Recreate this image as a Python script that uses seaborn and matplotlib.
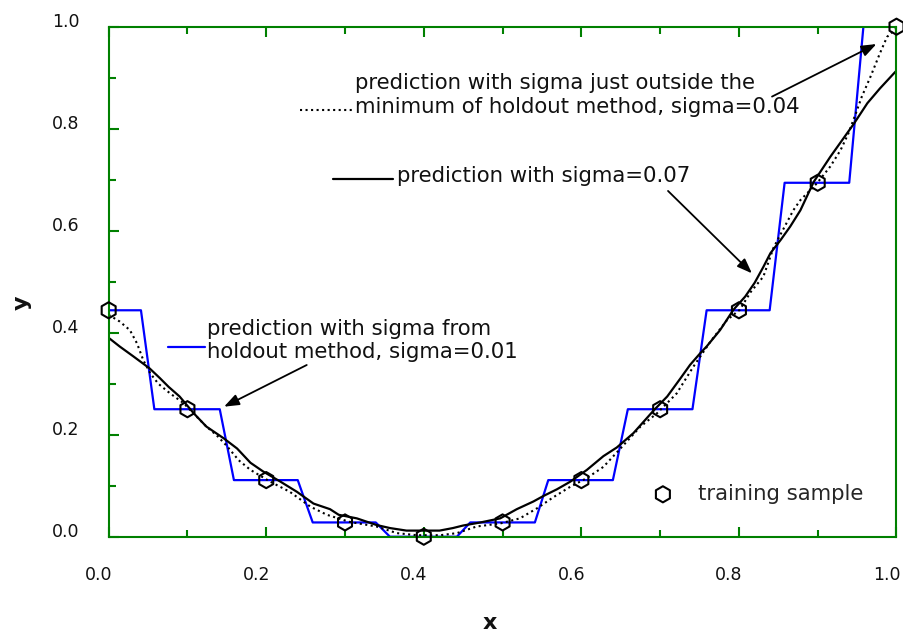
import matplotlib
matplotlib.use("Agg")
import matplotlib.pyplot as plt
import seaborn as sns
from matplotlib.transforms import ScaledTranslation

# ---------------- data ----------------
sample_x = [0.0, 0.1, 0.2, 0.3, 0.4, 0.5, 0.6, 0.7, 0.8, 0.9, 1.0]
sample_y = [0.444, 0.250, 0.111, 0.028, 0.000, 0.028, 0.111, 0.250, 0.444, 0.694, 1.000]

# prediction, sigma = 0.01 (blue, step-like)
s01_x = [0.000, 0.041, 0.058, 0.141, 0.159, 0.240, 0.259, 0.339, 0.357, 0.442, 0.459,
         0.541, 0.558, 0.640, 0.659, 0.741, 0.759, 0.839, 0.858, 0.940, 0.958, 1.000]
s01_y = [0.444, 0.444, 0.250, 0.250, 0.111, 0.111, 0.028, 0.028, 0.000, 0.000, 0.028,
         0.028, 0.111, 0.111, 0.250, 0.250, 0.444, 0.444, 0.694, 0.694, 1.000, 1.000]

# prediction, sigma = 0.04 (dotted)
s04_x = [0.000, 0.014, 0.027, 0.036, 0.044, 0.053, 0.063, 0.078, 0.095, 0.112, 0.124,
         0.137, 0.150, 0.165, 0.180, 0.205, 0.230, 0.256, 0.277, 0.306, 0.340, 0.366,
         0.391, 0.421, 0.442, 0.467, 0.497, 0.522, 0.544, 0.565, 0.586, 0.607, 0.628,
         0.649, 0.675, 0.696, 0.721, 0.742, 0.764, 0.785, 0.801, 0.815, 0.831, 0.844,
         0.857, 0.869, 0.878, 0.899, 0.916, 0.929, 0.939, 0.950, 0.956, 0.967, 0.979,
         0.988, 1.000]
s04_y = [0.435, 0.422, 0.405, 0.379, 0.346, 0.320, 0.300, 0.281, 0.262, 0.235, 0.216,
         0.199, 0.178, 0.150, 0.131, 0.108, 0.088, 0.059, 0.043, 0.029, 0.020, 0.007,
         0.003, 0.003, 0.007, 0.020, 0.026, 0.036, 0.056, 0.078, 0.098, 0.115, 0.137,
         0.172, 0.216, 0.242, 0.281, 0.333, 0.383, 0.425, 0.445, 0.480, 0.510, 0.567,
         0.605, 0.640, 0.660, 0.693, 0.726, 0.758, 0.791, 0.837, 0.863, 0.902, 0.948,
         0.980, 0.997]

# prediction, sigma = 0.07 (solid black)
s07_x = [0.000, 0.014, 0.031, 0.052, 0.065, 0.076, 0.090, 0.108, 0.124, 0.146, 0.163,
         0.180, 0.196, 0.218, 0.239, 0.260, 0.281, 0.292, 0.315, 0.340, 0.357, 0.378,
         0.408, 0.420, 0.437, 0.450, 0.472, 0.497, 0.518, 0.539, 0.552, 0.569, 0.586,
         0.607, 0.628, 0.645, 0.666, 0.692, 0.709, 0.726, 0.738, 0.751, 0.759, 0.776,
         0.793, 0.808, 0.820, 0.831, 0.840, 0.853, 0.865, 0.878, 0.895, 0.916, 0.946,
         0.963, 0.979, 1.000]
s07_y = [0.390, 0.373, 0.354, 0.330, 0.311, 0.294, 0.275, 0.242, 0.216, 0.193, 0.173,
         0.145, 0.128, 0.108, 0.088, 0.065, 0.054, 0.043, 0.036, 0.023, 0.017, 0.012,
         0.012, 0.012, 0.017, 0.022, 0.028, 0.036, 0.054, 0.069, 0.080, 0.093, 0.108,
         0.131, 0.158, 0.175, 0.203, 0.248, 0.275, 0.311, 0.337, 0.360, 0.373, 0.405,
         0.445, 0.471, 0.498, 0.529, 0.556, 0.582, 0.608, 0.640, 0.696, 0.745, 0.810,
         0.850, 0.879, 0.914]

major_ticks = [0.0, 0.2, 0.4, 0.6, 0.8, 1.0]
minor_ticks = [0.1, 0.3, 0.5, 0.7, 0.9]
tick_labels = ["0.0", "0.2", "0.4", "0.6", "0.8", "1.0"]

text_s04 = "prediction with sigma just outside the\nminimum of holdout method, sigma=0.04"
text_s07 = "prediction with sigma=0.07"
text_s01 = "prediction with sigma from\nholdout method, sigma=0.01"
legend_label = "training sample"

# ---------------- styling ----------------
sns.set_theme(style="white")
plt.rcParams["font.family"] = ["DejaVu Sans"]
GREEN = "#008000"
BLUE = "#0000ff"

fig = plt.figure(figsize=(9.04, 6.33), dpi=100)
ax = fig.add_axes([0.1202, 0.1521, 0.8715, 0.8057])

sns.lineplot(x=s01_x, y=s01_y, ax=ax, color=BLUE, lw=1.6, sort=False, estimator=None)
sns.lineplot(x=s04_x, y=s04_y, ax=ax, color="black", lw=1.5, linestyle=":",
             sort=False, estimator=None)
sns.lineplot(x=s07_x, y=s07_y, ax=ax, color="black", lw=1.6, sort=False, estimator=None)
sns.scatterplot(x=sample_x, y=sample_y, ax=ax, marker="h", s=135, facecolors="none",
                edgecolor="black", linewidth=1.5, clip_on=False, zorder=4,
                label=legend_label)

ax.set_xlim(0, 1)
ax.set_ylim(0, 1)

for sp in ax.spines.values():
    sp.set_visible(True)
    sp.set_color(GREEN)
    sp.set_linewidth(1.5)

ax.set_xticks(major_ticks)
ax.set_xticks(minor_ticks, minor=True)
ax.set_yticks(major_ticks)
ax.set_yticks(minor_ticks, minor=True)
ax.set_xticklabels(tick_labels)
ax.set_yticklabels(tick_labels)

ax.tick_params(axis="both", which="both", direction="in", color=GREEN, width=1.5,
               labelcolor="#111111", labelsize=12.5)
ax.tick_params(axis="x", which="major", length=7, bottom=True, top=True, pad=21)
ax.tick_params(axis="x", which="minor", length=5, bottom=True, top=True)
ax.tick_params(axis="y", which="major", length=7, left=True, right=False, pad=21)
ax.tick_params(axis="y", which="minor", length=5, left=True, right=False)

for lbl in ax.get_xticklabels():
    lbl.set_transform(lbl.get_transform() + ScaledTranslation(-0.10, 0, fig.dpi_scale_trans))
for lbl in ax.get_yticklabels():
    lbl.set_transform(lbl.get_transform() + ScaledTranslation(0, 0.07, fig.dpi_scale_trans))

ax.set_xlabel("")
ax.set_ylabel("")
fig.text(490 / 904, 1 - 623 / 633, "x", ha="center", va="center",
         fontsize=16, fontweight="bold", color="#111111")
fig.text(22 / 904, 1 - 303 / 633, "y", ha="center", va="center", rotation=90,
         fontsize=16, fontweight="bold", color="#111111")

# legend
ax.legend(loc="center left", bbox_to_anchor=(0.690, 0.084), frameon=False,
          borderpad=0, borderaxespad=0, handlelength=1.0, handletextpad=1.15,
          fontsize=15.3, markerscale=1.0)

# annotations
FS = 15.3
ax.text(0.3128, 0.866, text_s04, ha="left", va="center", fontsize=FS, color="#111111")
ax.plot([0.243, 0.309], [0.836, 0.836], color="black", lw=1.5, linestyle=":")
ax.annotate("", xy=(0.9745, 0.966), xytext=(0.842, 0.863),
            arrowprops=dict(arrowstyle="-|>,head_length=0.45,head_width=0.17",
                            color="black", lw=1.3, shrinkA=0, shrinkB=0,
                            mutation_scale=20))

ax.text(0.366, 0.707, text_s07, ha="left", va="center", fontsize=FS, color="#111111")
ax.plot([0.285, 0.361], [0.701, 0.701], color="black", lw=1.6)
ax.annotate("", xy=(0.8165, 0.5165), xytext=(0.710, 0.678),
            arrowprops=dict(arrowstyle="-|>,head_length=0.45,head_width=0.17",
                            color="black", lw=1.3, shrinkA=0, shrinkB=0,
                            mutation_scale=20))

ax.text(0.1248, 0.3847, text_s01, ha="left", va="center", fontsize=FS, color="#111111")
ax.plot([0.0753, 0.1223], [0.372, 0.372], color=BLUE, lw=1.6)
ax.annotate("", xy=(0.1465, 0.255), xytext=(0.2514, 0.3367),
            arrowprops=dict(arrowstyle="-|>,head_length=0.45,head_width=0.17",
                            color="black", lw=1.3, shrinkA=0, shrinkB=0,
                            mutation_scale=20))

fig.savefig("out.png", dpi=100)
